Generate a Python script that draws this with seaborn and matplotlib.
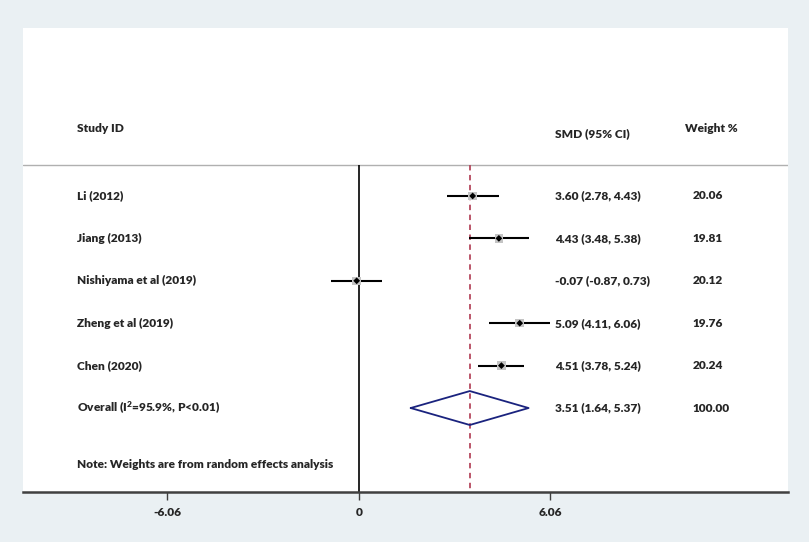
import seaborn as sns
import matplotlib.pyplot as plt
import pandas as pd

# Forest plot data
studies = ["Li (2012)", "Jiang (2013)", "Nishiyama et al (2019)", "Zheng et al (2019)", "Chen (2020)"]
smd = [3.60, 4.43, -0.07, 5.09, 4.51]
lower = [2.78, 3.48, -0.87, 4.11, 3.78]
upper = [4.43, 5.38, 0.73, 6.06, 5.24]
weights = ["20.06", "19.81", "20.12", "19.76", "20.24"]
overall_label = "Overall (I$^2$=95.9%, P<0.01)"
overall = [3.51, 1.64, 5.37]
overall_weight = "100.00"
ticks = [-6.06, 0, 6.06]

rows = list(range(1, len(studies) + 1))
overall_row = len(studies) + 1
df = pd.DataFrame({"study": studies, "smd": smd, "lo": lower, "hi": upper, "row": rows})

sns.set_style("white")
plt.rcParams["font.family"] = ["Lato", "DejaVu Sans"]
plt.rcParams["font.weight"] = "heavy"
plt.rcParams["mathtext.default"] = "regular"

fig = plt.figure(figsize=(8.09, 5.42), dpi=100, facecolor="#eaf0f3")
ax = fig.add_axes([23 / 809, 1 - 492 / 542, 765 / 809, 464 / 542])
ax.set_facecolor("white")

ax.set_xlim(-10.63, 13.58)
ax.set_ylim(7.98, -2.96)

# header separator
ax.axhline(0.27, color="#b0b0b0", lw=1)

# null line and overall estimate line
ax.vlines(0, 0.27, 7.98, color="black", lw=1.2)
ax.vlines(overall[0], 0.27, 7.98, color="#b5485e", lw=1.3, linestyles=(0, (3, 2.5)))

# confidence intervals
ax.hlines(df["row"], df["lo"], df["hi"], color="black", lw=1.5)
sns.scatterplot(data=df, x="smd", y="row", marker="s", s=38, color="#c4c4c4",
                edgecolor="none", ax=ax, zorder=3, legend=False)
sns.scatterplot(data=df, x="smd", y="row", marker="D", s=12, color="black",
                edgecolor="none", ax=ax, zorder=4, legend=False)

# overall diamond
est, lo, hi = overall
ax.plot([lo, est, hi, est, lo], [overall_row, overall_row - 0.4, overall_row, overall_row + 0.4, overall_row],
        color="#1a237e", lw=1.3, zorder=4)

fs = 8.6
tx_study, tx_smd, tx_w = -8.93, 6.2, 10.55
ax.text(tx_study, -0.6, "Study ID", fontsize=fs, va="center")
ax.text(tx_smd, -0.48, "SMD (95% CI)", fontsize=fs, va="center")
ax.text(tx_w - 0.22, -0.6, "Weight %", fontsize=fs, va="center")
for r, s, m, l, h, w in zip(rows, studies, smd, lower, upper, weights):
    ax.text(tx_study, r, s, fontsize=fs, va="center")
    ax.text(tx_smd, r, f"{m:.2f} ({l:.2f}, {h:.2f})", fontsize=fs, va="center")
    ax.text(tx_w, r, w, fontsize=fs, va="center")
ax.text(tx_study, overall_row, overall_label, fontsize=fs, va="center")
ax.text(tx_smd, overall_row, f"{est:.2f} ({lo:.2f}, {hi:.2f})", fontsize=fs, va="center")
ax.text(tx_w, overall_row, overall_weight, fontsize=fs, va="center")
ax.text(tx_study, 7.34, "Note: Weights are from random effects analysis", fontsize=fs, va="center")

for side in ["top", "left", "right"]:
    ax.spines[side].set_visible(False)
ax.spines["bottom"].set_color("#404040")
ax.spines["bottom"].set_linewidth(1.8)
ax.set_xticks(ticks)
ax.set_xticklabels(["-6.06", "0", "6.06"], fontsize=fs, fontweight="heavy")
ax.tick_params(axis="x", direction="out", length=6, width=1, color="#404040", bottom=True, pad=5)
ax.set_yticks([])
ax.set_xlabel("")
ax.set_ylabel("")

fig.savefig("out.png", dpi=100, facecolor=fig.get_facecolor())
